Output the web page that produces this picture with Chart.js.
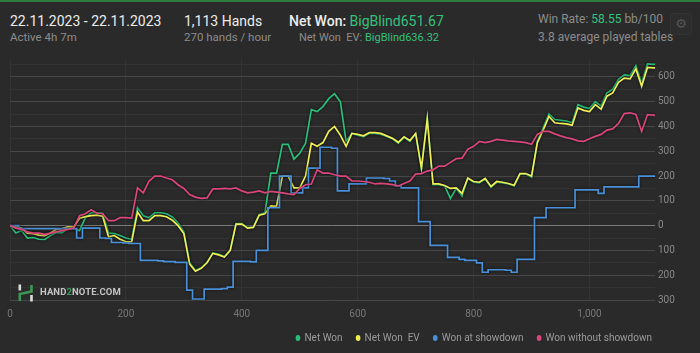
<!DOCTYPE html>
<html>
<head>
<meta charset="utf-8">
<script src="https://cdn.jsdelivr.net/npm/chart.js@4.4.0/dist/chart.umd.min.js"></script>
<style>
    html, body { margin: 0; padding: 0; }
    body { width: 700px; height: 353px; background: #2a2a2a; font-family: Roboto, "Noto Sans", sans-serif; position: relative; overflow: hidden; border-top: 2px solid #2f7d3c; box-sizing: border-box; }
    .t { position: absolute; white-space: pre; line-height: 1; }
    .big { font-size: 14px; color: #ececec; }
    .small { font-size: 11.5px; color: #8c8c8c; }
    .g { color: #35c07f; }
    #chartBox { position: absolute; left: 0; top: 44px; width: 700px; height: 307px; }
    #gear { position: absolute; left: 670px; top: 11px; width: 20px; height: 20px; border: 1px solid #333; border-radius: 3px; background: #2d2d2d; color: #555; font-size: 13px; text-align: center; line-height: 20px; font-family: "DejaVu Sans"; }
    #mark { position: absolute; left: 17px; top: 282px; }
    #markText { position: absolute; left: 40px; top: 284px; font-size: 9.5px; font-weight: bold; color: #c4c4c4; letter-spacing: 0.1px; }
</style>
</head>
<body>
<div class="t big" style="left:10px; top:12px;">22.11.2023 - 22.11.2023</div>
<div class="t small" style="left:10px; top:30px;">Active 4h 7m</div>
<div class="t big" style="left:184px; top:12px;">1,113 Hands</div>
<div class="t small" style="left:184px; top:30px;">270 hands / hour</div>
<div class="t big" style="left:289px; top:12px;"><span style="font-weight:500">Net Won: </span><span class="g">BigBlind651.67</span></div>
<div class="t small" style="right:261px; top:30px; font-size:11px;">Net Won  EV: <span class="g">BigBlind636.32</span></div>
<div class="t small" style="left:538px; top:11px; font-size:12px;">Win Rate: <span class="g">58.55</span> bb/100</div>
<div class="t small" style="left:538px; top:29px; font-size:12px;">3.8 average played tables</div>
<div id="gear">⚙</div>
<div id="chartBox"><canvas id="graph"></canvas></div>
<svg id="mark" width="18" height="18" viewBox="0 0 18 18">
    <rect x="1.5" y="0.5" width="2.6" height="6" fill="#dcdcdc"></rect>
    <polyline points="2.8,17 2.8,10 14.5,7.5 14.5,1" stroke="#3a9a55" stroke-width="2.6" fill="none"></polyline>
    <rect x="13.2" y="11" width="2.6" height="6.5" fill="#dcdcdc"></rect>
</svg>
<div id="markText">HAND<span style="color:#3a9a55">2</span>NOTE.COM</div>
<script>
document.addEventListener("DOMContentLoaded", function() {
    const hands = [0, 10, 20, 30, 40, 50, 60, 70, 80, 90, 100, 110, 120, 130, 140, 150, 160, 170, 180, 190,
        200, 210, 220, 230, 240, 250, 260, 270, 280, 290, 300, 310, 320, 330, 340, 350, 360, 370, 380, 390,
        400, 410, 420, 430, 440, 450, 460, 470, 480, 490, 500, 510, 520, 530, 540, 550, 560, 570, 580, 590,
        600, 610, 620, 630, 640, 650, 660, 670, 680, 690, 700, 710, 720, 730, 740, 750, 760, 770, 780, 790,
        800, 810, 820, 830, 840, 850, 860, 870, 880, 890, 900, 910, 920, 930, 940, 950, 960, 970, 980, 990,
        1000, 1010, 1020, 1030, 1040, 1050, 1060, 1070, 1080, 1090, 1100, 1110, 1113];
    const netWon = [0, -30, -20, -50, -48, -55, -56, -40, -28, -28, -12, -12, -20, 32, 52, 52, 50, -30, -32, -40,
        -50, -55, 72, 40, 32, 52, 52, 48, 35, 10, -25, -150, -180, -170, -148, -110, -115, -125, -100, 8,
        8, -8, -5, 45, 52, 212, 212, 328, 328, 268, 292, 332, 468, 460, 480, 512, 532, 500, 340, 372,
        365, 358, 372, 372, 368, 360, 350, 332, 355, 340, 370, 230, 432, 165, 165, 160, 110, 150, 120, 190,
        175, 172, 188, 155, 175, 172, 168, 160, 208, 208, 195, 340, 395, 450, 428, 425, 422, 415, 488, 478,
        472, 500, 482, 535, 550, 590, 608, 605, 645, 575, 652, 650, 651.67];
    const netWonEV = [0, -5, -10, -30, -32, -38, -40, -30, -15, -12, -5, -5, 30, 36, 40, 42, 38, -45, -40, -55,
        -65, -65, 55, 20, 20, 40, 40, 36, 22, 0, -32, -155, -184, -172, -150, -112, -118, -127, -100, 6,
        6, -10, -7, 42, 48, 80, 78, 200, 200, 152, 152, 200, 332, 320, 335, 380, 400, 365, 320, 372,
        368, 362, 375, 375, 372, 362, 352, 336, 358, 343, 372, 232, 430, 168, 168, 162, 150, 152, 130, 192,
        178, 175, 190, 158, 178, 175, 170, 163, 210, 210, 200, 335, 385, 440, 415, 412, 410, 405, 475, 465,
        460, 488, 470, 522, 535, 578, 595, 592, 632, 562, 638, 636, 636.32];
    const wonShowdown = [0, 0, -12, -12, -12, -12, -12, -12, -12, -12, -12, -12, -50, -10, -10, -10, -50, -52, -68, -68,
        -70, -72, -72, -140, -140, -140, -142, -145, -145, -148, -148, -260, -296, -296, -256, -256, -256, -254, -248, -144,
        -144, -144, -146, -100, -100, 72, 72, 200, 200, 132, 132, 152, 232, 232, 316, 316, 312, 140, 140, 168,
        168, 168, 192, 192, 192, 190, 180, 160, 152, 152, 152, 16, 16, -80, -80, -80, -128, -128, -136, -140,
        -140, -150, -188, -178, -178, -178, -180, -188, -136, -136, -136, 32, 32, 72, 72, 72, 72, 72, 144, 144,
        144, 144, 130, 156, 156, 156, 156, 156, 156, 200, 200, 200, 200];
    const wonNoShowdown = [0, -10, -15, -25, -30, -30, -35, -30, -25, -20, -15, -10, 40, 48, 64, 50, 48, 20, 20, 32,
        32, 30, 152, 132, 180, 200, 200, 192, 185, 165, 150, 125, 115, 110, 112, 148, 148, 150, 148, 152,
        140, 132, 135, 140, 132, 138, 135, 132, 128, 125, 150, 165, 168, 225, 212, 212, 205, 200, 200, 180,
        180, 178, 175, 168, 170, 168, 165, 160, 170, 180, 208, 210, 220, 225, 240, 240, 255, 270, 272, 308,
        320, 340, 335, 340, 348, 345, 342, 340, 338, 335, 328, 368, 380, 380, 370, 362, 355, 350, 342, 340,
        350, 360, 368, 385, 390, 412, 452, 455, 448, 380, 448, 446, 445];
    const seriesNames = ["Net Won", "Net Won  EV", "Won at showdown", "Won without showdown"];
    const seriesColors = ["#2bbd7a", "#eeee55", "#4a90d9", "#d8467c"];
    const seriesStepped = [false, false, "middle", false];
    const xTicks = [0, 200, 400, 600, 800, 1000];
    const yTicks = [-300, -250, -200, -150, -100, -50, 0, 50, 100, 150, 200, 250, 300, 350, 400, 450, 500, 550, 600, 650];

    const allSeries = [netWon, netWonEV, wonShowdown, wonNoShowdown];
    const drawOrder = [4, 3, 2, 1];
    const datasets = allSeries.map(function(values, i) {
        return {
            label: seriesNames[i],
            data: values.map(function(v, j) { return { x: hands[j], y: v }; }),
            borderColor: seriesColors[i],
            backgroundColor: seriesColors[i],
            borderWidth: 1.7,
            pointRadius: 0,
            tension: 0,
            stepped: seriesStepped[i],
            order: drawOrder[i]
        };
    });

    // dark halo round the lines, like the original
    const lineShadow = {
        id: "lineShadow",
        beforeDatasetDraw: function(chart) {
            chart.ctx.save();
            chart.ctx.shadowColor = "rgba(0,0,0,0.75)";
            chart.ctx.shadowBlur = 3;
        },
        afterDatasetDraw: function(chart) {
            chart.ctx.restore();
        }
    };

    // legend sits left of the y labels in the original
    const legendShift = {
        id: "legendShift",
        afterLayout: function(chart) {
            chart.legend.right -= 34;
        }
    };

    new Chart(document.getElementById("graph"), {
        type: "line",
        data: { datasets: datasets },
        plugins: [lineShadow, legendShift],
        options: {
            responsive: true,
            maintainAspectRatio: false,
            animation: false,
            layout: { padding: { left: 10, top: 13.5, right: 0, bottom: 0 } },
            plugins: {
                tooltip: { enabled: false },
                legend: {
                    position: "bottom",
                    align: "end",
                    labels: {
                        color: "#9a9a9a",
                        font: { family: "Roboto", size: 10 },
                        usePointStyle: true,
                        pointStyle: "circle",
                        boxHeight: 3,
                        pointStyleWidth: 3,
                        padding: 14,
                        sort: function(a, b) { return a.datasetIndex - b.datasetIndex; }
                    }
                }
            },
            scales: {
                x: {
                    type: "linear",
                    min: 0,
                    max: 1113,
                    afterBuildTicks: function(axis) {
                        axis.ticks = xTicks.map(function(v) { return { value: v }; });
                    },
                    afterFit: function(axis) { axis.height = 18; },
                    ticks: { color: "#777", font: { family: "Roboto", size: 10 }, padding: 7, maxRotation: 0, autoSkip: false },
                    grid: { color: "rgba(255,255,255,0.05)", drawTicks: false },
                    border: { display: false }
                },
                y: {
                    position: "right",
                    min: -304,
                    max: 670,
                    afterBuildTicks: function(axis) {
                        axis.ticks = yTicks.map(function(v) { return { value: v }; });
                    },
                    afterFit: function(axis) { axis.width = 45; },
                    ticks: {
                        autoSkip: false,
                        color: "#888",
                        font: { family: "Roboto", size: 10 },
                        padding: 3,
                        callback: function(v) { return v % 100 === 0 ? Math.abs(v) : ""; }
                    },
                    grid: {
                        drawTicks: false,
                        color: function(c) {
                            if (c.tick.value === 0) return "#7a7a7a";
                            return c.tick.value % 100 === 0 ? "#474747" : "#333333";
                        }
                    },
                    border: { display: false }
                }
            }
        }
    });
});
</script>
</body>
</html>
